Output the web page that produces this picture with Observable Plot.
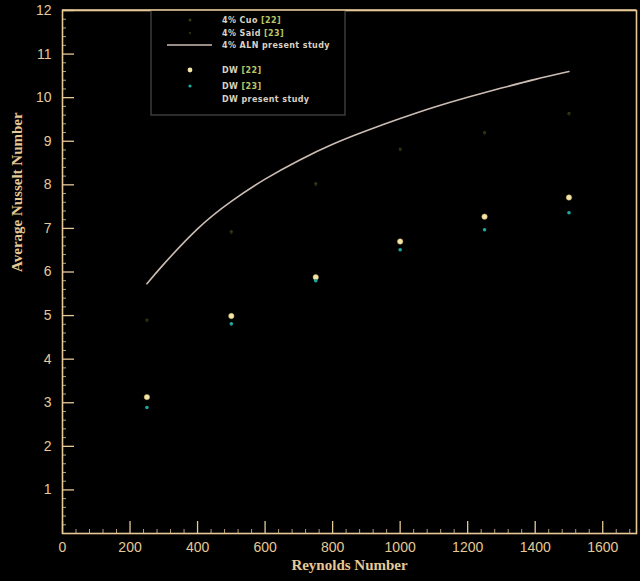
<!DOCTYPE html>
<html>
<head>
<meta charset="utf-8">
<script src="https://cdn.jsdelivr.net/npm/d3@7"></script>
<script src="https://cdn.jsdelivr.net/npm/@observablehq/plot@0.6"></script>
<style>
  html, body { margin: 0; padding: 0; background: #000; }
  #chart { width: 640px; height: 581px; }
</style>
</head>
<body>
<div id="chart"></div>
<script>
// ---- data ----
const reynolds = [250, 500, 750, 1000, 1250, 1500];
const cuo22 = [4.90, 6.93, 8.03, 8.82, 9.20, 9.64];
const said23 = [4.88, 6.90, 8.00, 8.80, 9.18, 9.62];
const dw22 = [3.13, 4.99, 5.88, 6.70, 7.27, 7.71];
const dw23 = [2.89, 4.81, 5.80, 6.51, 6.97, 7.36];
const alnRe = [250, 300, 400, 500, 600, 700, 800, 900, 1000, 1100, 1200, 1300, 1400, 1500];
const alnNu = [5.73, 6.18, 6.99, 7.62, 8.13, 8.56, 8.93, 9.24, 9.52, 9.78, 10.01, 10.22, 10.42, 10.60];
const xTicks = [0, 200, 400, 600, 800, 1000, 1200, 1400, 1600];
const xMinor = d3.range(0, 1700, 40).filter(v => v % 200 !== 0);
const yTicks = [1, 2, 3, 4, 5, 6, 7, 8, 9, 10, 11, 12];
const yMinor = d3.range(0, 12, 0.2).map(v => +v.toFixed(1)).filter(v => Math.abs(v - Math.round(v)) > 1e-6);
const legendLabels = [
  ["4% Cuo ", "[22]"],
  ["4% Said ", "[23]"],
  ["4% ALN present study", ""],
  ["DW ", "[22]"],
  ["DW ", "[23]"],
  ["DW present study", ""]
];

const beige = "#e6c996";
const W = 640, H = 581;
const mt = 10, mr = 4, mb = 48, ml = 62;
const pw = W - ml - mr, ph = H - mt - mb;

const pts = (ys) => reynolds.map((r, i) => ({re: r, nu: ys[i]}));
const aln = alnRe.map((r, i) => ({re: r, nu: alnNu[i]}));

const chart = Plot.plot({
  width: W, height: H,
  marginTop: mt, marginRight: mr, marginBottom: mb, marginLeft: ml,
  style: {background: "#000", color: beige},
  x: {domain: [0, 1700]},
  y: {domain: [0, 12]},
  marks: [
    Plot.tickX(xTicks, {x: d => d, stroke: beige, strokeWidth: 1.3, insetTop: ph - 12}),
    Plot.tickX(xMinor, {x: d => d, stroke: beige, strokeWidth: 1, insetTop: ph - 4, strokeOpacity: 0.8}),
    Plot.tickY(yTicks, {y: d => d, stroke: beige, strokeWidth: 1.3, insetRight: pw - 12}),
    Plot.tickY(yMinor, {y: d => d, stroke: beige, strokeWidth: 1, insetRight: pw - 4, strokeOpacity: 0.8}),
    Plot.axisX(xTicks, {tickSize: 0, tickPadding: 9, fontSize: 14, fill: beige, label: null, tickFormat: d => String(d), fontFamily: "Liberation Sans, Arial, sans-serif"}),
    Plot.axisY(yTicks, {tickSize: 0, tickPadding: 11, fontSize: 14, fill: beige, label: null, tickFormat: d => String(d), fontFamily: "Liberation Sans, Arial, sans-serif"}),
    Plot.frame({stroke: beige, strokeWidth: 1.6}),
    Plot.line(aln, {x: "re", y: "nu", curve: "natural", stroke: "#cbbcb4", strokeWidth: 1.6}),
    Plot.dot(pts(cuo22), {x: "re", y: "nu", r: 1.5, fill: "#3b3a12"}),
    Plot.dot(pts(said23), {x: "re", y: "nu", r: 1.2, fill: "#2c2c10"}),
    Plot.dot(pts(dw22), {x: "re", y: "nu", r: 2.7, fill: "#f3e4a8", stroke: "#c8b060", strokeWidth: 0.5}),
    Plot.dot(pts(dw23), {x: "re", y: "nu", r: 1.8, fill: "#1fa8a0"}),
    Plot.text(["Reynolds Number"], {frameAnchor: "bottom", dy: 36, text: d => d, fill: beige, fontSize: 15, fontWeight: "bold", fontFamily: "Liberation Serif, DejaVu Serif, serif", letterSpacing: "0.5px"}),
    Plot.text(["Average Nusselt Number"], {frameAnchor: "left", dx: -45, rotate: -90, text: d => d, fill: beige, fontSize: 15, fontWeight: "bold", fontFamily: "Liberation Serif, DejaVu Serif, serif"})
  ]
});

// legend box drawn inside the plot area
const svg = d3.select(chart);
const g = svg.append("g").attr("font-family", "DejaVu Sans, sans-serif").attr("font-size", 8).attr("font-weight", "bold").attr("text-anchor", "start");
g.append("rect").attr("x", 151).attr("y", 10).attr("width", 194).attr("height", 105)
  .attr("fill", "#000").attr("stroke", "#4a4a4a").attr("stroke-width", 1.2);
const rowsY = [20, 33, 45, 70, 86, 99];
legendLabels.forEach(([t, ref], i) => {
  const tx = g.append("text").attr("x", 222).attr("y", rowsY[i]).attr("dy", "0.35em").attr("fill", "#d9d2c2").attr("letter-spacing", "0.4px").attr("text-anchor", "start");
  tx.append("tspan").text(t);
  if (ref) tx.append("tspan").attr("fill", "#b9c766").text(ref);
});
g.append("circle").attr("cx", 190).attr("cy", rowsY[0]).attr("r", 1.5).attr("fill", "#3b3a12");
g.append("circle").attr("cx", 190).attr("cy", rowsY[1]).attr("r", 1.2).attr("fill", "#2c2c10");
g.append("line").attr("x1", 167).attr("x2", 212).attr("y1", rowsY[2]).attr("y2", rowsY[2]).attr("stroke", "#cbbcb4").attr("stroke-width", 1.6);
g.append("circle").attr("cx", 190).attr("cy", rowsY[3]).attr("r", 2.4).attr("fill", "#f3e4a8");
g.append("circle").attr("cx", 190).attr("cy", rowsY[4]).attr("r", 1.6).attr("fill", "#1fa8a0");
// frame top line over the legend box, as in the reference
svg.append("line").attr("x1", ml).attr("x2", W - mr).attr("y1", mt).attr("y2", mt).attr("stroke", beige).attr("stroke-width", 1.6);

document.getElementById("chart").appendChild(chart);
</script>
</body>
</html>
